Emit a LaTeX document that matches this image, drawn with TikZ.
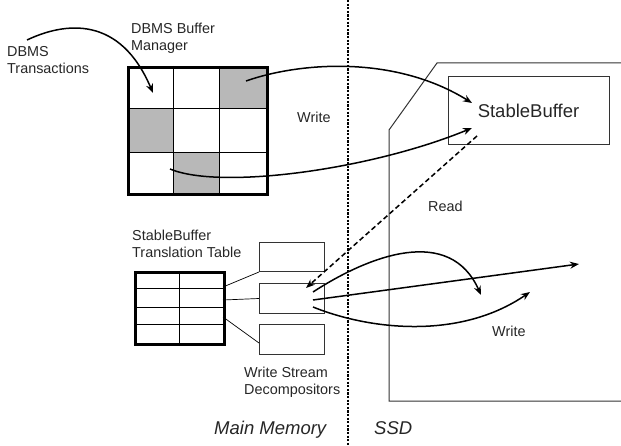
\documentclass[tikz,border=0pt]{standalone}
\usepackage{fontspec}
\setmainfont{Liberation Sans}
\usetikzlibrary{arrows.meta}
\begin{document}
\begin{tikzpicture}[x=1pt,y=-1pt,
  lbl/.style={anchor=base west,inner sep=0pt,align=left,font=\fontsize{14.4}{17.3}\selectfont,text=black!85},
  big/.style={inner sep=0pt,font=\fontsize{18.5}{22}\selectfont,text=black!85},
  bigit/.style={anchor=base west,inner sep=0pt,font=\fontsize{18.5}{22}\selectfont\itshape,text=black!85},
  arr/.style={line width=1.5pt,-{Stealth[length=9pt,width=7pt]}},
  thinbox/.style={draw=black!80,line width=1pt},
  shade/.style={fill=black!28},
  grid/.style={line width=0.9pt},
  frame/.style={line width=2.6pt}]
\useasboundingbox (0,0) rectangle (621,446);
% divider
\draw[line width=1.5pt,dash pattern=on 2.2pt off 1.4pt] (348,0) -- (348,446);
% SSD outline
\draw[thinbox] (621,63) -- (437,63) -- (389,130) -- (389,401) -- (621,401);
% buffer grid
\fill[shade] (219,66) rectangle (266,108);
\fill[shade] (127,108) rectangle (173,152);
\fill[shade] (173,152) rectangle (219,193);
\draw[grid] (173,66) -- (173,193) (219,66) -- (219,193) (127,108) -- (266,108) (127,152) -- (266,152);
\node[frame,draw,minimum width=139pt,minimum height=127pt,anchor=north west,inner sep=0pt] (buf) at (127,66) {};
% StableBuffer box
\node[thinbox,draw,minimum width=161pt,minimum height=68pt,big] (sb) at (528.5,111) {StableBuffer};
% translation table
\draw[grid] (179,271) -- (179,343) (134,288) -- (223,288) (134,307) -- (223,307) (134,324) -- (223,324);
\node[frame,draw,minimum width=89pt,minimum height=72pt,anchor=north west,inner sep=0pt] (tt) at (134,271) {};
% decompositors
\node[thinbox,draw,minimum width=65pt,minimum height=29pt,anchor=north west,inner sep=0pt] (d1) at (259,242) {};
\node[thinbox,draw,minimum width=65pt,minimum height=30pt,anchor=north west,inner sep=0pt] (d2) at (259,283) {};
\node[thinbox,draw,minimum width=65pt,minimum height=30pt,anchor=north west,inner sep=0pt] (d3) at (259,324) {};
\draw[line width=0.7pt] (223,287) -- (d1.south west);
\draw[line width=0.7pt] (223,300) -- (d2.west);
\draw[line width=0.7pt] (223,317) -- (259,343);
% labels (anchor = baseline of last line)
\node[lbl] (lbm) at (131,51) {DBMS Buffer\\Manager};
\node[lbl] (ltx) at (7,74) {DBMS\\Transactions};
\node[lbl] (ltt) at (132,258) {StableBuffer\\Translation Table};
\node[lbl] (lws) at (244,394.5) {Write Stream\\Decompositors};
\node[lbl] (lw1) at (297,123) {Write};
\node[lbl] (lrd) at (428,212) {Read};
\node[lbl] (lw2) at (492,336) {Write};
\node[bigit] (lmm) at (214,434) {Main Memory};
\node[bigit] (lssd) at (374,434) {SSD};
% arrows
\coordinate (t0) at (27,40);
\coordinate (t1) at (153,93);
\draw[arr] (t0) .. controls (65,22) and (120,15) .. (t1);
\coordinate (w1s) at (246,81);
\coordinate (w1e) at (472,103);
\draw[arr] (w1s) .. controls (300,62) and (395,55) .. (w1e);
\coordinate (w2s) at (170,169);
\coordinate (w2e) at (472,128);
\draw[arr] (w2s) .. controls (220,190) and (370,170) .. (w2e);
\coordinate (rs) at (477,136);
\coordinate (re) at (306,288);
\draw[arr,dashed,dash pattern=on 5pt off 3pt] (rs) -- (re);
\coordinate (as) at (313,292);
\coordinate (ae) at (481,295);
\draw[arr] (as) .. controls (370,255) and (450,225) .. (ae);
\coordinate (bs) at (313,300);
\coordinate (be) at (579,264);
\draw[arr] (bs) -- (be);
\coordinate (cs) at (313,307);
\coordinate (ce) at (530,292);
\draw[arr] (cs) .. controls (370,330) and (460,340) .. (ce);
\end{tikzpicture}
\end{document}
